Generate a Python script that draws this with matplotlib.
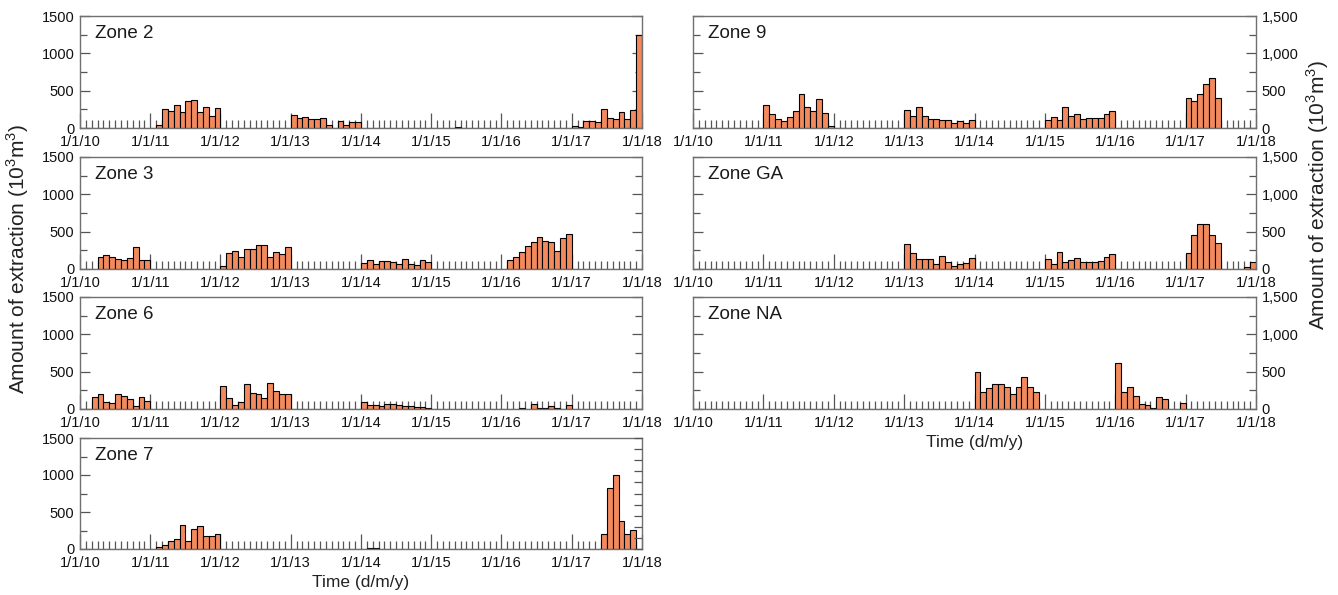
import numpy as np
import matplotlib
matplotlib.use('Agg')
import matplotlib.pyplot as plt
from matplotlib.ticker import MultipleLocator, FixedLocator, FuncFormatter

plt.rcParams['font.family'] = ['Liberation Sans', 'DejaVu Sans']
plt.rcParams['mathtext.fontset'] = 'custom'
plt.rcParams['mathtext.rm'] = 'Liberation Sans'

# ---------------- data (monthly extraction, Jan 2010 .. Dec 2017) ----------------
year_labels = ['1/1/10', '1/1/11', '1/1/12', '1/1/13', '1/1/14',
               '1/1/15', '1/1/16', '1/1/17', '1/1/18']

zone2 = [0, 0, 0, 0, 0, 0, 0, 0, 0, 0, 0, 0,
         0, 35, 258, 222, 306, 218, 368, 377, 218, 275, 164, 266,
         0, 0, 0, 0, 0, 0, 0, 0, 0, 0, 0, 0,
         173, 133, 151, 124, 120, 138, 40, 5, 100, 45, 75, 75,
         0, 0, 0, 0, 0, 0, 0, 0, 0, 0, 0, 0,
         5, 5, 5, 0, 12, 0, 0, 0, 5, 0, 0, 0,
         0, 0, 0, 0, 0, 0, 0, 0, 0, 0, 0, 0,
         30, 10, 100, 100, 75, 260, 140, 124, 218, 120, 244, 1252]

zone3 = [0, 0, 0, 157, 188, 166, 130, 121, 143, 291, 116, 116,
         0, 0, 0, 0, 0, 0, 0, 0, 0, 0, 0, 0,
         40, 220, 237, 157, 264, 269, 322, 318, 157, 224, 197, 291,
         0, 0, 0, 0, 0, 0, 0, 0, 0, 0, 0, 0,
         76, 116, 63, 107, 107, 98, 72, 134, 72, 54, 116, 98,
         0, 0, 0, 0, 0, 0, 0, 0, 0, 0, 0, 0,
         0, 121, 166, 224, 313, 363, 425, 381, 363, 242, 412, 470,
         0, 0, 0, 0, 0, 0, 0, 0, 0, 0, 0, 0]

zone6 = [0, 0, 157, 206, 90, 76, 197, 175, 139, 40, 157, 112,
         0, 0, 0, 0, 0, 0, 0, 0, 0, 0, 0, 0,
         309, 152, 54, 98, 331, 210, 197, 143, 354, 246, 206, 206,
         0, 0, 0, 0, 0, 0, 0, 0, 0, 0, 0, 0,
         90, 54, 54, 40, 63, 63, 54, 40, 40, 27, 22, 9,
         0, 0, 0, 0, 0, 0, 0, 0, 0, 0, 0, 0,
         0, 5, 5, 10, 5, 63, 15, 20, 40, 10, 5, 54,
         0, 0, 0, 0, 0, 0, 0, 0, 0, 0, 0, 0]

zone7 = [0, 0, 0, 0, 0, 0, 0, 0, 0, 0, 0, 0,
         0, 23, 54, 113, 131, 321, 104, 267, 316, 176, 176, 203,
         0, 0, 0, 0, 0, 0, 0, 0, 0, 0, 0, 0,
         5, 5, 5, 5, 5, 0, 0, 0, 0, 0, 0, 0,
         0, 10, 10, 0, 0, 0, 0, 0, 0, 0, 0, 0,
         0, 0, 0, 0, 0, 0, 0, 0, 0, 0, 0, 0,
         0, 0, 0, 0, 0, 0, 0, 0, 0, 0, 0, 0,
         0, 0, 0, 0, 0, 203, 827, 999, 380, 203, 258, 0]

zone9 = [0, 0, 0, 0, 0, 0, 0, 0, 0, 0, 0, 0,
         306, 191, 120, 98, 142, 226, 457, 280, 222, 395, 200, 30,
         0, 0, 0, 0, 0, 0, 0, 0, 0, 0, 0, 0,
         235, 164, 275, 164, 124, 124, 102, 102, 67, 98, 67, 102,
         0, 0, 0, 0, 0, 0, 0, 0, 0, 0, 0, 0,
         102, 147, 111, 275, 164, 191, 120, 133, 133, 133, 191, 222,
         0, 0, 0, 0, 0, 0, 0, 0, 0, 0, 0, 0,
         404, 360, 462, 586, 666, 400, 0, 0, 0, 0, 0, 0]

zoneGA = [0, 0, 0, 0, 0, 0, 0, 0, 0, 0, 0, 0,
          0, 0, 0, 0, 0, 0, 0, 0, 0, 0, 0, 0,
          0, 0, 0, 0, 0, 0, 0, 0, 0, 0, 0, 0,
          336, 219, 139, 139, 134, 67, 175, 98, 36, 67, 85, 148,
          0, 0, 0, 0, 0, 0, 0, 0, 0, 0, 0, 0,
          134, 63, 224, 98, 125, 143, 94, 94, 94, 107, 166, 201,
          0, 0, 0, 0, 0, 0, 0, 0, 0, 0, 0, 0,
          219, 457, 604, 604, 457, 345, 0, 0, 0, 0, 31, 98]

zoneNA = [0, 0, 0, 0, 0, 0, 0, 0, 0, 0, 0, 0,
          0, 0, 0, 0, 0, 0, 0, 0, 0, 0, 0, 0,
          0, 0, 0, 0, 0, 0, 0, 0, 0, 0, 0, 0,
          0, 0, 0, 0, 0, 0, 0, 0, 0, 0, 0, 0,
          500, 230, 280, 330, 340, 300, 200, 300, 430, 300, 230, 0,
          0, 0, 0, 0, 0, 0, 0, 0, 0, 0, 0, 0,
          610, 230, 300, 170, 70, 60, 20, 160, 130, 0, 0, 80,
          0, 0, 0, 0, 0, 0, 0, 0, 0, 0, 0, 0]

# ---------------- layout ----------------
W, H = 1338, 595
fig = plt.figure(figsize=(W / 100, H / 100), dpi=100)

BAR = '#F28A5E'
SPINE = '#707070'
TICK = '#555555'
TXT = '#111111'


def add_ax(x0, x1, y0, y1):
    return fig.add_axes([x0 / W, 1 - y1 / H, (x1 - x0) / W, (y1 - y0) / H])


def draw(ax, vals, name, side, right_step=None):
    months = np.arange(len(vals))
    ax.bar(months, vals, width=1, align='edge', color=BAR,
           edgecolor='black', linewidth=0.8, zorder=2)
    ax.set_xlim(0, 96)
    ax.set_ylim(0, 1500)
    ax.set_axisbelow(True)
    for s in ax.spines.values():
        s.set_color(SPINE)
        s.set_linewidth(1.0)
    ax.xaxis.set_major_locator(FixedLocator(np.arange(0, 97, 12)))
    ax.xaxis.set_minor_locator(FixedLocator([m for m in range(1, 96) if m % 12]))
    ax.set_xticklabels(year_labels)
    ax.tick_params(axis='x', which='major', direction='in', length=11,
                   width=0.9, color=TICK, labelsize=10.5, pad=5,
                   labelcolor=TXT)
    ax.tick_params(axis='x', which='minor', direction='in', length=6,
                   width=0.9, color=TICK)
    ax.yaxis.set_major_locator(MultipleLocator(500))
    ax.yaxis.set_minor_locator(MultipleLocator(250))
    if side == 'left':
        ax.yaxis.set_major_formatter(FuncFormatter(lambda v, p: f'{int(v)}'))
    else:
        ax.yaxis.set_major_formatter(FuncFormatter(lambda v, p: f'{int(v):,}'))
    has_right = right_step is None
    ax.tick_params(axis='y', which='both', direction='in', left=True,
                   right=has_right, labelleft=(side == 'left'),
                   labelright=(side == 'right'), color=TICK, width=0.9,
                   labelsize=10.5, pad=4, labelcolor=TXT)
    ax.tick_params(axis='y', which='major', length=7)
    ax.tick_params(axis='y', which='minor', length=5)
    if right_step is not None:
        ax2 = ax.twinx()
        ax2.set_ylim(0, 1500)
        ax2.yaxis.set_major_locator(MultipleLocator(right_step))
        ax2.tick_params(axis='y', direction='in', length=6, width=0.9,
                        color=TICK, labelright=False)
        for s in ax2.spines.values():
            s.set_visible(False)
    ax.text(0.027, 0.80, name, transform=ax.transAxes, fontsize=13.5,
            va='baseline', ha='left', color='#1a1a1a')


LX0, LX1 = 80, 642
RX0, RX1 = 693, 1256
rows = [(16, 128), (157, 269), (297, 409), (438, 549)]

left_data = [(zone2, 'Zone 2'), (zone3, 'Zone 3'), (zone6, 'Zone 6'), (zone7, 'Zone 7')]
right_data = [(zone9, 'Zone 9'), (zoneGA, 'Zone GA'), (zoneNA, 'Zone NA')]

for i, (vals, name) in enumerate(left_data):
    ax = add_ax(LX0, LX1, *rows[i])
    draw(ax, vals, name, 'left', right_step=150 if name == 'Zone 7' else None)

for i, (vals, name) in enumerate(right_data):
    ax = add_ax(RX0, RX1, *rows[i])
    draw(ax, vals, name, 'right')

ylab = r'Amount of extraction (10$^{\mathregular{3}}$m$^{\mathregular{3}}$)'
fig.text(18 / W, 1 - 259 / H, ylab, rotation=90, ha='center', va='center',
         fontsize=15, color='#222222')
fig.text(1318 / W, 1 - 195 / H, ylab, rotation=90, ha='center', va='center',
         fontsize=15, color='#222222')
fig.text(361 / W, 1 - 583 / H, 'Time (d/m/y)', ha='center', va='center',
         fontsize=12.5, color='#222222')
fig.text(975 / W, 1 - 443 / H, 'Time (d/m/y)', ha='center', va='center',
         fontsize=12.5, color='#222222')

fig.savefig('out.png', dpi=100)
